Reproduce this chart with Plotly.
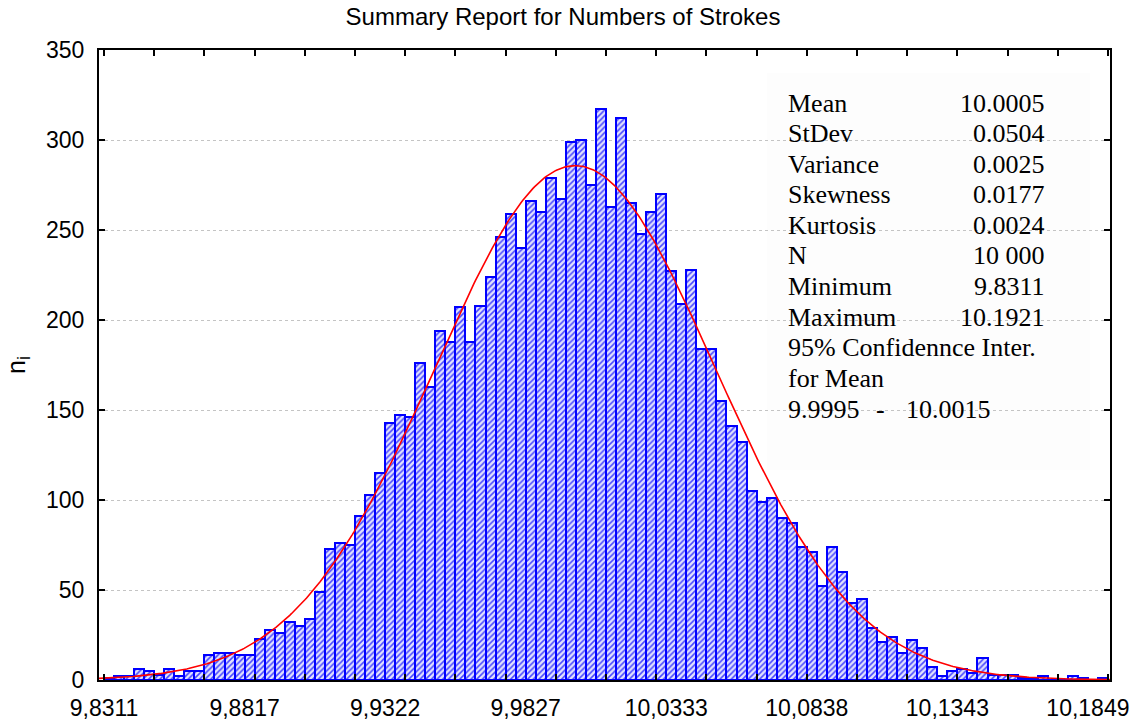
import numpy as np
import plotly.graph_objects as go

# ---------------- data ----------------
TITLE = "Summary Report for Numbers of Strokes"
BIN_START = 9.8311          # left edge of first bin (= minimum)
BIN_WIDTH = 0.00361         # (max - min) / 100
COUNTS = [1, 2, 2, 6, 5, 3, 6, 2, 5, 5,
          14, 15, 15, 14, 14, 23, 28, 26, 32, 30,
          34, 49, 73, 76, 75, 91, 103, 115, 143, 147,
          146, 176, 163, 194, 188, 207, 188, 208, 224, 246,
          259, 240, 266, 260, 279, 267, 299, 300, 275, 317,
          263, 312, 265, 248, 260, 270, 227, 209, 228, 184,
          184, 155, 141, 132, 105, 99, 101, 90, 87, 74,
          71, 52, 74, 60, 43, 45, 29, 21, 24, 15,
          22, 18, 7, 2, 5, 6, 4, 12, 3, 3,
          3, 1, 1, 2, 0, 0, 2, 1, 0, 1]
TICK_BINS = [0, 14, 28, 42, 56, 70, 84, 98]
TICK_LABELS = ["9,8311", "9,8817", "9,9322", "9,9827", "10,0333", "10,0838", "10,1343", "10,1849"]
Y_TICKS = [0, 50, 100, 150, 200, 250, 300, 350]

MEAN = 10.0005
STDEV = 0.0504
N_OBS = 10000
STAT_NAMES = ["Mean", "StDev", "Variance", "Skewness", "Kurtosis", "N", "Minimum", "Maximum",
              "95% Confidennce Inter.", "for Mean"]
STAT_VALUES = ["10.0005", "0.0504", "0.0025", "0.0177", "0.0024", "10 000", "9.8311", "10.1921", "", ""]
CI_LOW, CI_HIGH = "9.9995", "10.0015"

# ---------------- derived ----------------
nb = len(COUNTS)
centers = [BIN_START + (i + 0.5) * BIN_WIDTH for i in range(nb)]
tickvals = [BIN_START + k * BIN_WIDTH for k in TICK_BINS]
minor_vals = [BIN_START + k * BIN_WIDTH for k in range(0, nb + 1, 5)]
x_lo = BIN_START - 0.5 * BIN_WIDTH
x_hi = BIN_START + 100.2 * BIN_WIDTH

# fitted normal curve from the reported statistics
xc = np.linspace(x_lo, x_hi, 600)
yc = N_OBS * BIN_WIDTH / (STDEV * np.sqrt(2 * np.pi)) * np.exp(-0.5 * ((xc - MEAN) / STDEV) ** 2)

# plot area in pixels
W, H = 1138, 720
PL, PR, PT, PB = 99, 1110, 50, 680

def px_x(px):
    return (px - PL) / (PR - PL)

def px_y(py):
    return (PB - py) / (PB - PT)

fig = go.Figure()
fig.add_trace(go.Bar(
    x=centers, y=COUNTS, width=BIN_WIDTH,
    marker=dict(color="#dedeff",
                line=dict(color="#0000ff", width=2),
                pattern=dict(shape="/", fgcolor="#4646ff", bgcolor="#e2e2ff",
                             size=4, solidity=0.38, fillmode="replace")),
    showlegend=False, hoverinfo="skip"))
fig.add_trace(go.Scatter(x=xc, y=yc, mode="lines",
                         line=dict(color="#ff0000", width=1.6),
                         showlegend=False, hoverinfo="skip"))

sans = "Liberation Sans, Arial, sans-serif"
serif = "Liberation Serif, Times New Roman, serif"

fig.update_layout(
    width=W, height=H,
    margin=dict(l=PL, r=W - PR, t=PT, b=H - PB, pad=0, autoexpand=False),
    paper_bgcolor="white", plot_bgcolor="white",
    bargap=0,
    title=dict(text=TITLE, x=563 / W, xanchor="center", y=1 - 17 / H, yanchor="middle",
               font=dict(family=sans, size=24, color="black")),
    xaxis=dict(range=[x_lo, x_hi], tickmode="array", tickvals=tickvals, ticktext=TICK_LABELS,
               ticks="", showgrid=False, zeroline=False, automargin=False,
               showline=True, linecolor="black", linewidth=2, mirror="ticks",
               tickfont=dict(family=sans, size=23, color="black"),
               ticklabelstandoff=6,
               minor=dict(tickvals=minor_vals, ticks="inside", ticklen=6, tickwidth=1.5,
                          tickcolor="black", showgrid=False)),
    yaxis=dict(range=[0, 350], tickmode="array", tickvals=Y_TICKS,
               ticks="inside", ticklen=6, tickwidth=1.5, tickcolor="black",
               showgrid=True, gridcolor="#c4c4c4", griddash="dot", gridwidth=1,
               zeroline=False, showline=True, linecolor="black", linewidth=2, mirror="ticks",
               automargin=False,
               tickfont=dict(family=sans, size=23, color="black"),
               ticklabelstandoff=8),
)

# statistics box
fig.add_shape(type="rect", xref="paper", yref="paper",
              x0=px_x(767), x1=px_x(1090), y0=px_y(470), y1=px_y(73),
              fillcolor="#fdfdfd", line=dict(width=0), layer="between")

y0_line, dy = 103, 30.6
for i, (name, val) in enumerate(zip(STAT_NAMES, STAT_VALUES)):
    yy = px_y(y0_line + i * dy)
    fig.add_annotation(xref="paper", yref="paper", x=px_x(786), y=yy, text=name,
                       showarrow=False, xanchor="left", yanchor="middle",
                       font=dict(family=serif, size=26, color="black"))
    if val:
        fig.add_annotation(xref="paper", yref="paper", x=px_x(1047), y=yy, text=val,
                           showarrow=False, xanchor="right", yanchor="middle",
                           font=dict(family=serif, size=26, color="black"))
yy = px_y(y0_line + 10 * dy)
fig.add_annotation(xref="paper", yref="paper", x=px_x(786), y=yy, text=CI_LOW,
                   showarrow=False, xanchor="left", yanchor="middle",
                   font=dict(family=serif, size=26, color="black"))
fig.add_annotation(xref="paper", yref="paper", x=px_x(880), y=yy, text="-",
                   showarrow=False, xanchor="center", yanchor="middle",
                   font=dict(family=serif, size=26, color="black"))
fig.add_annotation(xref="paper", yref="paper", x=px_x(904), y=yy, text=CI_HIGH,
                   showarrow=False, xanchor="left", yanchor="middle",
                   font=dict(family=serif, size=26, color="black"))

# y-axis title
fig.add_annotation(xref="paper", yref="paper", x=px_x(18), y=px_y(365), text="n<sub>i</sub>",
                   showarrow=False, textangle=-90, xanchor="center", yanchor="middle",
                   font=dict(family=sans, size=25, color="black"))

fig.write_html("out.html", config={"displayModeBar": False},
               post_script="document.body.style.margin='0';document.body.style.overflow='hidden';")
